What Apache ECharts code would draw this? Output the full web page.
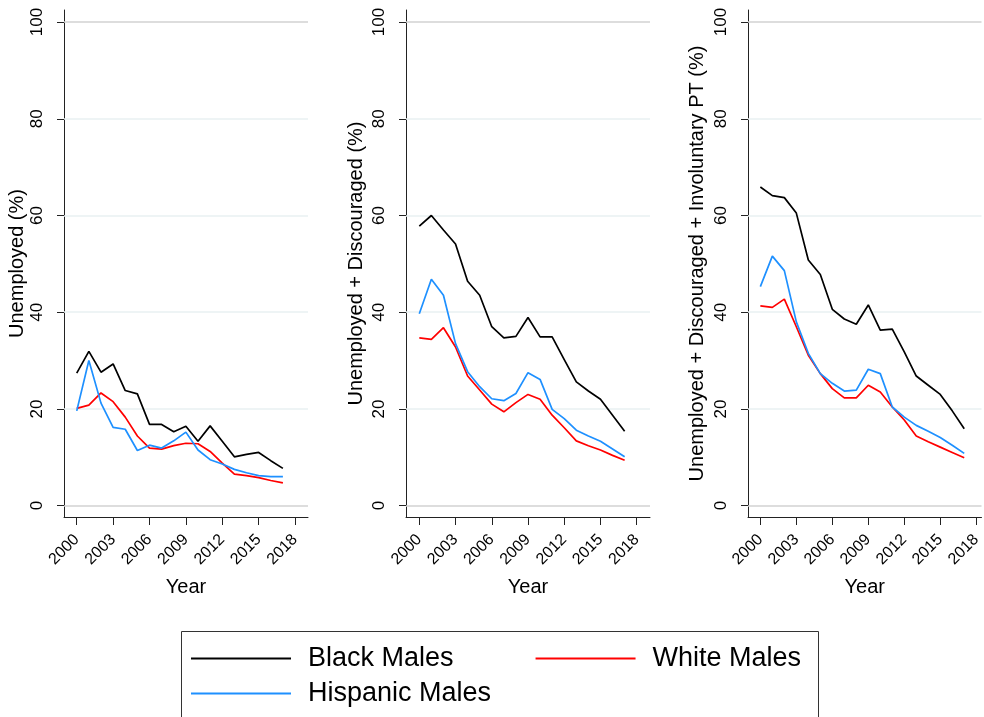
<!DOCTYPE html>
<html><head><meta charset="utf-8">
<script src="https://cdn.jsdelivr.net/npm/echarts@6.0.0/dist/echarts.min.js"></script>
<style>html,body{margin:0;padding:0;background:#fff}#c{width:984px;height:717px}</style>
</head><body><div id="c"></div>
<script>
const years = [2000,2001,2002,2003,2004,2005,2006,2007,2008,2009,2010,2011,2012,2013,2014,2015,2016,2017];
const xTicks = [2000,2003,2006,2009,2012,2015,2018];
const yTicks = [0,20,40,60,80,100];
const seriesNames = ['Black Males','White Males','Hispanic Males'];
const panelTitles = ['Unemployed (%)','Unemployed + Discouraged (%)','Unemployed + Discouraged + Involuntary PT (%)'];
const xTitle = 'Year';

const unempBlack = [27.4,31.9,27.6,29.3,23.8,23.1,16.8,16.8,15.3,16.4,13.3,16.5,13.3,10.1,10.6,11.0,9.3,7.7];
const unempWhite = [20.1,20.8,23.3,21.5,18.3,14.4,11.9,11.7,12.4,12.9,12.8,11.2,8.8,6.5,6.2,5.8,5.2,4.7];
const unempHisp  = [19.6,30.0,21.2,16.2,15.8,11.4,12.5,11.9,13.4,15.2,11.5,9.5,8.6,7.5,6.8,6.2,6.0,6.0];

const discBlack = [57.8,60.0,57.0,54.1,46.4,43.5,37.0,34.7,35.0,38.9,34.9,34.9,30.2,25.6,23.7,22.0,18.7,15.4];
const discWhite = [34.7,34.4,36.8,32.8,26.8,23.9,21.0,19.4,21.3,23.0,22.0,18.7,16.1,13.4,12.4,11.5,10.4,9.4];
const discHisp  = [39.7,46.8,43.5,33.5,27.7,24.6,22.1,21.7,23.2,27.5,26.1,19.9,18.0,15.6,14.4,13.3,11.7,10.1];

const invBlack = [65.9,64.1,63.7,60.5,50.8,47.8,40.6,38.6,37.5,41.5,36.3,36.5,31.8,26.8,24.9,23.0,19.6,15.9];
const invWhite = [41.3,41.0,42.7,37.0,31.1,27.3,24.2,22.3,22.3,24.9,23.5,20.4,17.7,14.4,13.2,12.1,11.0,9.9];
const invHisp  = [45.3,51.6,48.6,38.0,31.5,27.3,25.3,23.7,23.9,28.2,27.3,20.4,18.3,16.6,15.4,14.1,12.5,10.8];

const panels = [
  [unempBlack, unempWhite, unempHisp],
  [discBlack, discWhite, discHisp],
  [invBlack, invWhite, invHisp]
];
const colors = ['#000000','#ff0000','#1e90ff'];
const FONT = '"Liberation Sans", Arial, sans-serif';

const gridDefs = [
  {left:64, top:10, width:244, height:507},
  {left:406, top:10, width:244, height:507},
  {left:748, top:10, width:236, height:507}
];
const xRanges = [[1998.95,2019.07],[1998.9,2019.1],[1998.97,2018.44]];
const yNameGaps = [37, 40, 41];

const grid = [], xAxis = [], yAxis = [], series = [];
gridDefs.forEach((g, i) => {
  grid.push(Object.assign({containLabel:false}, g));
  xAxis.push({
    type:'value', gridIndex:i, min:xRanges[i][0], max:xRanges[i][1],
    axisLine:{show:true, onZero:false, lineStyle:{color:'#222', width:1}},
    axisTick:{show:true, length:8, customValues:xTicks, lineStyle:{color:'#222'}},
    axisLabel:{customValues:xTicks, rotate:45, margin:20, fontSize:16, color:'#000', fontFamily:FONT,
      formatter: v => String(Math.round(v))},
    splitLine:{show:false},
    name:xTitle, nameLocation:'middle', nameGap:60,
    nameTextStyle:{fontSize:20, color:'#000', fontFamily:FONT}
  });
  yAxis.push({
    type:'value', gridIndex:i, min:-2.35, max:102.5,
    axisLine:{show:true, onZero:false, lineStyle:{color:'#222', width:1}},
    axisTick:{show:true, length:7, customValues:yTicks, lineStyle:{color:'#222'}},
    axisLabel:{customValues:yTicks, rotate:90, margin:18, fontSize:17, color:'#000', fontFamily:FONT},
    splitLine:{show:false},
    name:panelTitles[i], nameLocation:'middle', nameGap:yNameGaps[i],
    nameTextStyle:{fontSize:20, color:'#000', fontFamily:FONT}
  });
  panels[i].forEach((vals, k) => {
    const s = {
      type:'line', name:seriesNames[k], xAxisIndex:i, yAxisIndex:i,
      data: years.map((y, j) => [y, vals[j]]),
      symbol:'none', showSymbol:false, color:colors[k],
      lineStyle:{width:1.7, color:colors[k]},
      animation:false, z:3 + k
    };
    if (k === 0) {
      s.markLine = {
        silent:true, symbol:'none', animation:false, z:1,
        label:{show:false},
        data: yTicks.map(v => ({yAxis:v, lineStyle:{color:(v===0||v===100)?'#d2d2d2':'#e9f0f2', width:1.5, type:'solid'}}))
      };
    }
    series.push(s);
  });
});

const legendCommon = {
  orient:'horizontal', icon:'rect', itemWidth:100, itemHeight:2, padding:0,
  selectedMode:false,
  textStyle:{fontSize:27, color:'#000', fontFamily:FONT, padding:[0,0,0,12]}
};

const option = {
  backgroundColor:'#fff',
  animation:false,
  grid, xAxis, yAxis, series,
  legend:[
    Object.assign({}, legendCommon, {data:[seriesNames[0], seriesNames[1]], left:191, top:645, itemGap:82}),
    Object.assign({}, legendCommon, {data:[seriesNames[2]], left:191, top:680})
  ],
  graphic:[{
    type:'rect', silent:true, z:-1,
    shape:{x:181.5, y:631.5, width:637, height:90},
    style:{fill:'none', stroke:'#333', lineWidth:1}
  }]
};
const chart = echarts.init(document.getElementById('c'), null, {renderer:'canvas'});
chart.setOption(option);
</script>
</body></html>
